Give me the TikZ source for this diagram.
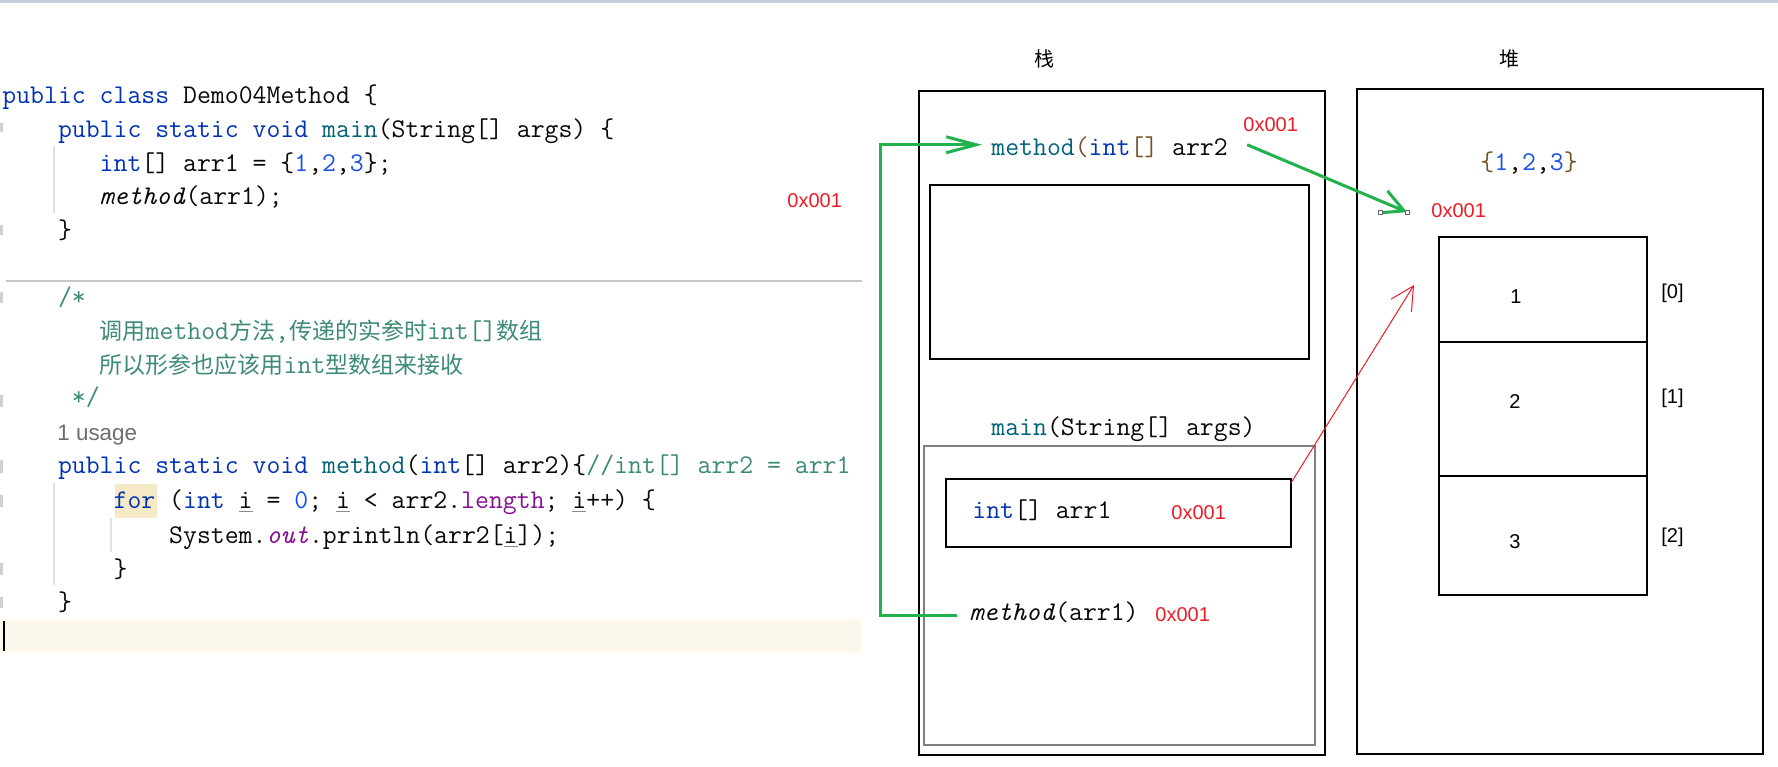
\documentclass[tikz,border=0pt]{standalone}
\usepackage{fontspec}
\setmainfont{Liberation Sans}
\setsansfont{Liberation Sans}
\newfontfamily\cjk{Noto Sans CJK SC}
\usetikzlibrary{arrows.meta}
\definecolor{kw}{RGB}{0,51,179}
\definecolor{fn}{RGB}{0,98,122}
\definecolor{nm}{RGB}{23,80,235}
\definecolor{cmt}{RGB}{62,138,120}
\definecolor{pu}{RGB}{135,16,148}
\definecolor{brk}{RGB}{120,85,40}
\definecolor{grn}{RGB}{34,177,76}
\definecolor{rd}{RGB}{237,28,36}
\definecolor{usage}{RGB}{110,110,110}
\definecolor{curline}{RGB}{252,249,236}
\definecolor{forbg}{RGB}{245,234,197}
\definecolor{guide}{RGB}{225,225,225}
\definecolor{topbar}{RGB}{197,206,221}
\definecolor{txt}{RGB}{8,8,8}
\newcommand\ckw[1]{\textcolor{kw}{#1}}
\newcommand\cfn[1]{\textcolor{fn}{#1}}
\newcommand\cnm[1]{\textcolor{nm}{#1}}
\newcommand\ccm[1]{\textcolor{cmt}{#1}}
\newcommand\cpu[1]{\textcolor{pu}{#1}}
\newcommand\cbr[1]{\textcolor{brk}{#1}}
\newcommand\uli{\rlap{\textcolor{black!45}{\rule[-2pt]{0.51em}{0.5pt}}}i}
\newcommand\codefont{\fontsize{13.5pt}{15pt}\selectfont\ttfamily}
\newcommand\cjkcode{\fontsize{11.5pt}{13pt}\selectfont\cjk}
\newcommand\labfont{\fontsize{10pt}{12pt}\selectfont\sffamily}
\begin{document}
\begin{tikzpicture}[x=0.5pt,y=-0.5pt,
  code/.style={anchor=base west,inner sep=0pt,font=\codefont,text=txt},
  addr/.style={anchor=base west,inner sep=0pt,font=\labfont,text=rd},
  lab/.style={anchor=base west,inner sep=0pt,font=\labfont,text=black},
  cjklab/.style={anchor=base west,inner sep=0pt,font=\fontsize{10pt}{12pt}\selectfont\cjk,text=black},
  box/.style={draw=black,line width=0.65pt,anchor=north west,inner sep=0pt,outer sep=0pt},
  graybox/.style={draw=black!50,line width=0.65pt,anchor=north west,inner sep=0pt,outer sep=0pt},
  garrA/.style={draw=grn,line width=1.5pt,-{Straight Barb[length=15pt,width=8pt]}},
  garrB/.style={draw=grn,line width=1.5pt,-{Straight Barb[length=11.5pt,width=12pt]}},
  rarr/.style={draw=rd,line width=0.5pt,-{Straight Barb[length=11.5pt,width=12pt]}},
  handle/.style={draw=black!60,fill=white,line width=0.4pt,minimum size=2pt,inner sep=0pt},
  fold/.style={fill=black!18},
  guideline/.style={draw=guide,line width=0.6pt}]
\useasboundingbox (0,0) rectangle (1778,766);
\fill[white] (0,0) rectangle (1778,766);
\fill[topbar] (0,0) rectangle (1778,2.5);
% editor background decorations
\fill[curline] (0,619) rectangle (861,653);
\draw[line width=1pt,black] (4,621) -- (4,651);
\fill[forbg] (115,484) rectangle (157,518);
\draw[black!22,line width=0.6pt] (6,281) -- (862,281);
\draw[guideline] (54,146) -- (54,213);
\draw[guideline] (54,483) -- (54,585);
\draw[guideline] (111,518) -- (111,552);
\foreach \ya/\yb in {123/132,225/235,292/303,395/407,460/473,495/507,563/575,597/608}
  \fill[fold] (0,\ya) rectangle (3,\yb);
% code
\node[code] (c1) at (2,103) {\ckw{public class} Demo04Method \{};
\node[code] (c2) at (57.6,137) {\ckw{public static void} \cfn{main}(String[] args) \{};
\node[code] (c3) at (99.3,171) {\ckw{int}[] arr1 = \{\cnm{1},\cnm{2},\cnm{3}\};};
\node[code] (c4) at (99.3,204) {\textit{method}(arr1);};
\node[code] (c5) at (57.6,238) {\}};
\node[code] (c6) at (57.6,305) {\ccm{/*}};
\node[code] (c7) at (99.3,339) {\ccm{{\cjkcode 调用}method{\cjkcode 方法},{\cjkcode 传递的实参时}int[]{\cjkcode 数组}}};
\node[code] (c8) at (99.3,373) {\ccm{{\cjkcode 所以形参也应该用}int{\cjkcode 型数组来接收}}};
\node[code] (c9) at (71.5,405) {\ccm{*/}};
\node[anchor=base west,inner sep=0pt,font=\fontsize{11.2pt}{13pt}\selectfont\sffamily,text=usage] (c10) at (57,440) {1 usage};
\node[code] (c11) at (57.6,473) {\ckw{public static void} \cfn{method}(\ckw{int}[] arr2)\{\ccm{//int[] arr2 = arr1}};
\node[code] (c12) at (113.2,508) {\ckw{for} (\ckw{int} \uli{} = \cnm{0}; \uli{} < arr2.\cpu{length}; \uli{}++) \{};
\node[code] (c13) at (168.8,543) {System.\cpu{\textit{out}}.println(arr2[\uli]);};
\node[code] (c14) at (113.2,577) {\}};
\node[code] (c15) at (57.6,610) {\}};
\node[addr] (codeaddr) at (787,207) {0x001};
% stack
\node[cjklab] (stackT) at (1034,66) {栈};
\node[box,minimum width=203pt,minimum height=332pt] (stack) at (919,91) {};
\node[box,minimum width=189.5pt,minimum height=87pt] (frameM) at (930,185) {};
\node[code] (marr2) at (991,155) {\cfn{method}\cbr{(}\ckw{int}\cbr{[]} arr2};
\node[addr] (maddr) at (1243,131) {0x001};
\node[code] (mainlbl) at (991,435) {\cfn{main}(String[] args)};
\node[graybox,minimum width=195.5pt,minimum height=149.5pt] (frameMain) at (924,446) {};
\node[box,minimum width=172.5pt,minimum height=34pt] (arr1box) at (946,479) {};
\node[code] (arr1txt) at (972,518) {\ckw{int}[] arr1};
\node[addr] (arr1addr) at (1171,519) {0x001};
\node[code] (callarr1) at (969,620) {\textit{method}(arr1)};
\node[addr] (calladdr) at (1155,621) {0x001};
% heap
\node[cjklab] (heapT) at (1499,66) {堆};
\node[box,minimum width=203pt,minimum height=332.5pt] (heap) at (1357,89) {};
\node[code] (heaparr) at (1480,170) {\cbr{\{}\cnm{1},\cnm{2},\cnm{3}\cbr{\}}};
\node[addr] (haddr) at (1431,217) {0x001};
\node[box,minimum width=104pt,minimum height=52.5pt] (cell1) at (1439,237) {};
\node[box,minimum width=104pt,minimum height=67pt] (cell2) at (1439,342) {};
\node[box,minimum width=104pt,minimum height=59.5pt] (cell3) at (1439,476) {};
\node[lab] (v1) at (1510,303) {1};
\node[lab] (v2) at (1509,408) {2};
\node[lab] (v3) at (1509,548) {3};
\node[lab] (i0) at (1661,298) {[0]};
\node[lab] (i1) at (1661,403) {[1]};
\node[lab] (i2) at (1661,542) {[2]};
% connectors
\draw[garrA] ([xshift=-6pt,yshift=-2pt]callarr1.west) -- ++(-77,0) |- ([xshift=-4.5pt,yshift=1pt]marr2.west);
\draw[garrB] ([xshift=9.5pt,yshift=1pt]marr2.east) -- ([xshift=-12pt,yshift=-1pt]haddr.west);
\draw[rarr] ([yshift=-2pt]arr1box.north east) -- ([xshift=-12.5pt,yshift=-24pt]cell1.north west);
\node[handle] (hs1) at (1380,212) {};
\node[handle] (hs2) at (1407,212) {};
\end{tikzpicture}
\end{document}
